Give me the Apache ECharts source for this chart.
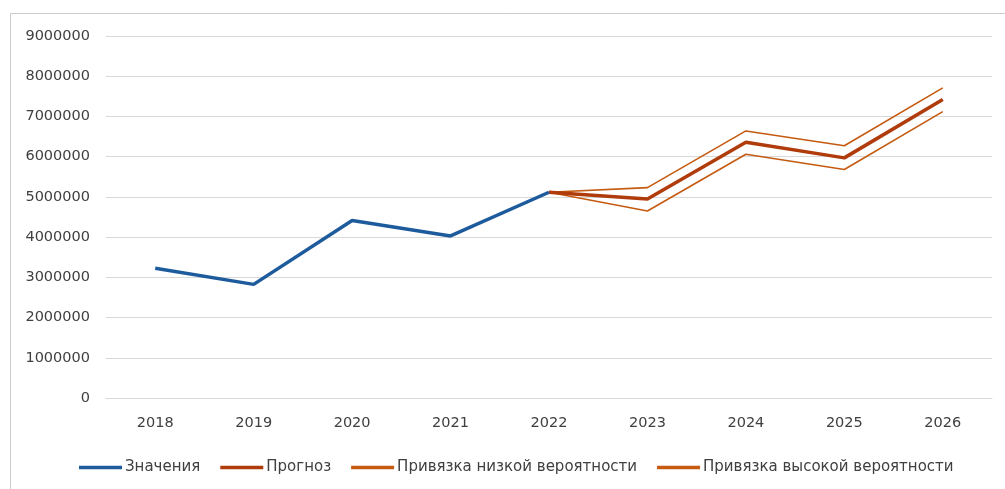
<!DOCTYPE html>
<html>
<head>
<meta charset="utf-8">
<script src="https://cdn.jsdelivr.net/npm/echarts@6/dist/echarts.min.js"></script>
<style>
html,body{margin:0;padding:0;background:#fff;}
#c{width:1005px;height:489px;}
</style>
</head>
<body>
<div id="c"></div>
<script>
const categories = ['2018','2019','2020','2021','2022','2023','2024','2025','2026'];
const values   = [3225000, 2825000, 4415000, 4030000, 5115000, null, null, null, null];
const forecast = [null, null, null, null, 5115000, 4950000, 6360000, 5970000, 7420000];
const lowBound = [null, null, null, null, 5115000, 4650000, 6060000, 5680000, 7120000];
const highBound= [null, null, null, null, 5115000, 5230000, 6640000, 6270000, 7710000];
const seriesNames = ['Значения', 'Прогноз', 'Привязка низкой вероятности', 'Привязка высокой вероятности'];

const font = 'DejaVu Sans';
const chart = echarts.init(document.getElementById('c'), null, {renderer: 'canvas'});
chart.setOption({
  animation: false,
  backgroundColor: '#ffffff',
  graphic: [{
    type: 'rect',
    shape: {x: 10.5, y: 13.5, width: 1100, height: 600},
    style: {fill: 'none', stroke: '#cccccc', lineWidth: 1},
    silent: true
  }],
  grid: {left: 106, right: 13, top: 36, bottom: 91},
  legend: {
    data: [
      {name: seriesNames[0], itemStyle: {color: '#1e5b9c'}},
      {name: seriesNames[1], itemStyle: {color: '#b03c0c'}},
      {name: seriesNames[2], itemStyle: {color: '#c55a11'}},
      {name: seriesNames[3], itemStyle: {color: '#c55a11'}}
    ],
    icon: 'rect',
    left: 74, top: 455,
    itemWidth: 43, itemHeight: 3.5, itemGap: 20,
    textStyle: {fontFamily: font, fontSize: 15, color: '#404040', padding: [0, 0, 0, -2]}
  },
  xAxis: {
    type: 'category',
    data: categories,
    boundaryGap: true,
    axisLine: {show: true, lineStyle: {color: '#d9d9d9', width: 1}},
    axisTick: {show: false},
    axisLabel: {fontFamily: font, fontSize: 14.5, color: '#404040', margin: 18}
  },
  yAxis: {
    type: 'value',
    min: 0, max: 9000000, interval: 1000000,
    axisLine: {show: false},
    axisTick: {show: false},
    splitLine: {lineStyle: {color: '#d9d9d9', width: 1}},
    axisLabel: {fontFamily: font, fontSize: 14.5, color: '#404040', margin: 16,
      formatter: function (v) { return String(v); }}
  },
  series: [
    {name: seriesNames[0], type: 'line', data: values, symbol: 'none', z: 4,
     lineStyle: {color: '#1e5b9c', width: 3.5}, itemStyle: {color: '#1e5b9c'}},
    {name: seriesNames[1], type: 'line', data: forecast, symbol: 'none', z: 3,
     lineStyle: {color: '#b03c0c', width: 3.5}, itemStyle: {color: '#b03c0c'}},
    {name: seriesNames[2], type: 'line', data: lowBound, symbol: 'none', z: 2,
     lineStyle: {color: '#c55a11', width: 1.6}, itemStyle: {color: '#c55a11'}},
    {name: seriesNames[3], type: 'line', data: highBound, symbol: 'none', z: 2,
     lineStyle: {color: '#c55a11', width: 1.6}, itemStyle: {color: '#c55a11'}}
  ]
});
</script>
</body>
</html>
